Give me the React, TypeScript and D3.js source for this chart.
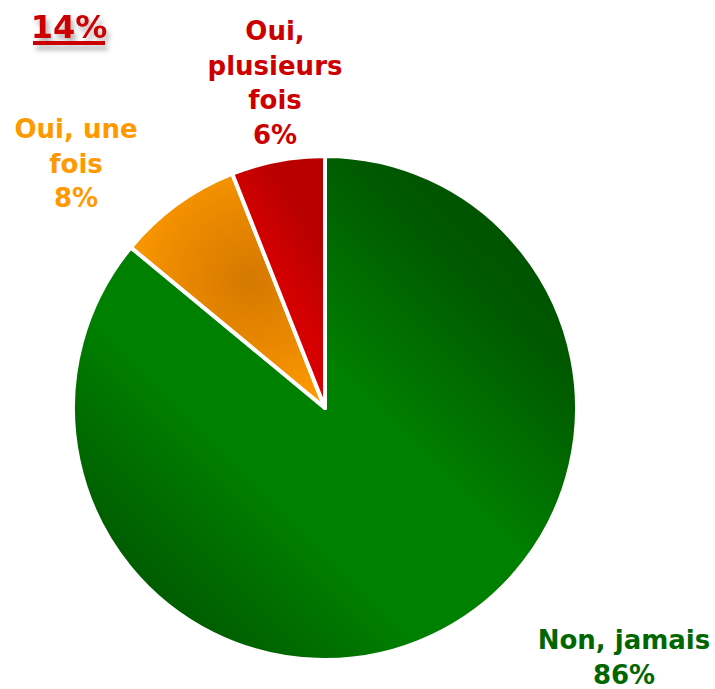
import React, { useEffect, useRef } from "react";
import * as d3 from "d3";

const width = 715;
const height = 689;

const categories = ["Non, jamais", "Oui, une fois", "Oui, plusieurs fois"];
const values = [86, 8, 6];
const labelLines = [
  ["Non, jamais", "86%"],
  ["Oui, une", "fois", "8%"],
  ["Oui,", "plusieurs", "fois", "6%"],
];
const totalLabel = "14%";

const textColors = ["#006600", "#ff9900", "#cc0000"];
const labelPos = [
  [624, 649],
  [76, 138],
  [275, 40],
];

export default function App() {
  const svgRef = useRef<SVGSVGElement>(null);

  useEffect(() => {
    const svg = d3.select(svgRef.current);
    svg.selectAll("*").remove();
    const cx = 325, cy = 408, r = 252;

    const defs = svg.append("defs");
    // gradient coordinates are relative to the pie centre
    const g0 = defs.append("linearGradient").attr("id", "gGreen")
      .attr("gradientUnits", "userSpaceOnUse")
      .attr("x1", r * 0.9).attr("y1", -r * 0.9)
      .attr("x2", -r * 0.9).attr("y2", r * 0.9);
    [[0, "#004c00"], [0.2, "#005a00"], [0.45, "#008000"], [0.65, "#008000"], [0.85, "#006200"], [1, "#004c00"]].forEach(([o, c]) =>
      g0.append("stop").attr("offset", o as number).attr("stop-color", c as string));

    const g1 = defs.append("radialGradient").attr("id", "gOrange")
      .attr("gradientUnits", "userSpaceOnUse")
      .attr("cx", 250 - cx).attr("cy", 280 - cy).attr("r", 140);
    [[0, "#d47800"], [0.55, "#ec8a00"], [1, "#ff9c00"]].forEach(([o, c]) =>
      g1.append("stop").attr("offset", o as number).attr("stop-color", c as string));

    const g2 = defs.append("linearGradient").attr("id", "gRed")
      .attr("gradientUnits", "userSpaceOnUse")
      .attr("x1", 240 - cx).attr("y1", 300 - cy).attr("x2", 325 - cx).attr("y2", 250 - cy);
    [[0, "#e00000"], [0.5, "#d20000"], [1, "#b80000"]].forEach(([o, c]) =>
      g2.append("stop").attr("offset", o as number).attr("stop-color", c as string));

    const f = defs.append("filter").attr("id", "shadow")
      .attr("x", "-20%").attr("y", "-20%").attr("width", "160%").attr("height", "180%");
    f.append("feDropShadow").attr("dx", 3).attr("dy", 5).attr("stdDeviation", 2.5)
      .attr("flood-color", "#000").attr("flood-opacity", 0.3);

    const fills = ["url(#gGreen)", "url(#gOrange)", "url(#gRed)"];

    const arcs = d3.pie<number>().sort(null).value(d => d)(values);
    const arcGen = d3.arc<d3.PieArcDatum<number>>().innerRadius(0).outerRadius(r);

    svg.append("g")
      .attr("transform", `translate(${cx},${cy})`)
      .selectAll("path")
      .data(arcs)
      .join("path")
      .attr("d", arcGen)
      .attr("fill", (d, i) => fills[i])
      .attr("stroke", "#fff")
      .attr("stroke-width", 4)
      .attr("stroke-linejoin", "round");

    const font = "'DejaVu Sans', Verdana, sans-serif";
    categories.forEach((c, i) => {
      const t = svg.append("text")
        .attr("x", labelPos[i][0]).attr("y", labelPos[i][1])
        .attr("text-anchor", "middle")
        .attr("font-family", font)
        .attr("font-weight", "bold")
        .attr("font-size", 26)
        .attr("fill", textColors[i]);
      labelLines[i].forEach((l, j) => {
        t.append("tspan").attr("x", labelPos[i][0]).attr("dy", j === 0 ? 0 : 34.5).text(l);
      });
    });

    const tot = svg.append("g").attr("filter", "url(#shadow)");
    tot.append("text")
      .attr("x", 69).attr("y", 38)
      .attr("text-anchor", "middle")
      .attr("font-family", font)
      .attr("font-weight", "bold")
      .attr("font-size", 32)
      .attr("fill", "#cc0000")
      .text(totalLabel);
    tot.append("rect").attr("x", 33).attr("y", 41).attr("width", 72).attr("height", 4).attr("fill", "#cc0000");
  }, []);

  return (
    <svg ref={svgRef} width={width} height={height}
      style={{ position: "absolute", left: 0, top: 0, background: "#fff" }} />
  );
}
